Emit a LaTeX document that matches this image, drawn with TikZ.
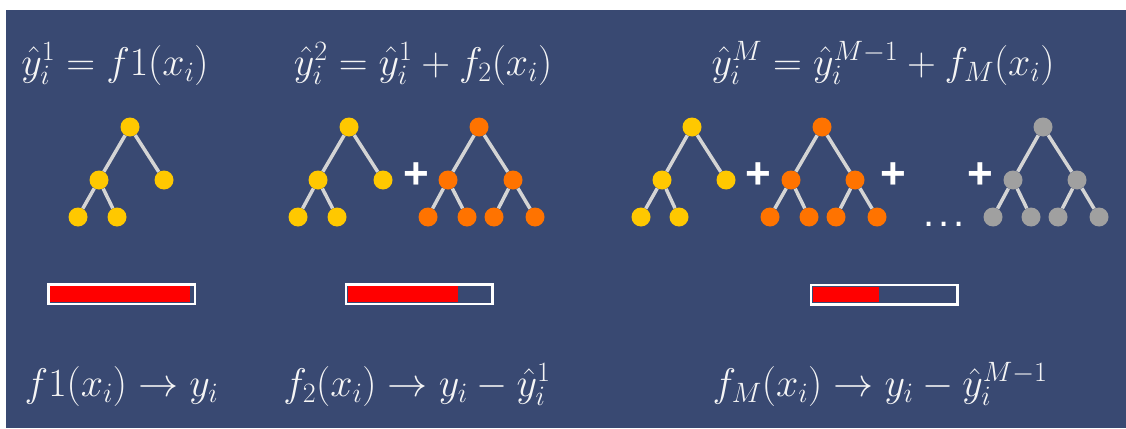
\RequirePackage{fix-cm}
\documentclass[tikz,border=0pt]{standalone}
\usepackage{fontspec}
\newfontfamily\signfont{Liberation Sans}
\usetikzlibrary{positioning}
\definecolor{bgblue}{RGB}{57,73,114}
\definecolor{leafyellow}{RGB}{255,200,0}
\definecolor{leaforange}{RGB}{255,115,0}
\definecolor{leafgray}{RGB}{160,160,160}
\definecolor{edgegray}{RGB}{212,212,212}
\definecolor{chalk}{RGB}{245,245,245}
\tikzstyle{yel}=[circle,fill=leafyellow,minimum size=19pt,inner sep=0pt]
\tikzstyle{org}=[circle,fill=leaforange,minimum size=19pt,inner sep=0pt]
\tikzstyle{gry}=[circle,fill=leafgray,minimum size=19pt,inner sep=0pt]
\tikzstyle{edge}=[draw=edgegray,line width=3.5pt]
\tikzstyle{formula}=[text=chalk,font=\fontsize{40}{46}\selectfont,anchor=base,inner sep=0pt]
\tikzstyle{plus}=[text=white,font=\signfont\bfseries\fontsize{44}{44}\selectfont,inner sep=0pt]
\tikzstyle{barframe}=[rectangle,draw=white,line width=2.5pt,minimum width=146.5pt,minimum height=19.5pt,inner sep=0pt,outer sep=0pt]

\begin{document}
\begin{tikzpicture}[x=1pt,y=-1pt]
\fill[white] (0,0) rectangle (1126,428);
\fill[bgblue] (6,10) rectangle (1126,428);
\node[formula] (top1) at (115,75) {$\hat{y}_i^1 = f1(x_i)$};
\node[formula] (top2) at (423,75) {$\hat{y}_i^2 = \hat{y}_i^1 + f_2(x_i)$};
\node[formula] (top3) at (883,75) {$\hat{y}_i^M = \hat{y}_i^{M-1} + f_M(x_i)$};
\node[yel] (a1) at (130,127) {};
\node[yel] (a2) at (99,180) {};
\node[yel] (a3) at (164,180) {};
\node[yel] (a4) at (78,217) {};
\node[yel] (a5) at (117,217) {};
\draw[edge] (a1) -- (a2);
\draw[edge] (a1) -- (a3);
\draw[edge] (a2) -- (a4);
\draw[edge] (a2) -- (a5);
\node[yel] (b1) at (349,127) {};
\node[yel] (b2) at (318,180) {};
\node[yel] (b3) at (383,180) {};
\node[yel] (b4) at (298,217) {};
\node[yel] (b5) at (337,217) {};
\draw[edge] (b1) -- (b2);
\draw[edge] (b1) -- (b3);
\draw[edge] (b2) -- (b4);
\draw[edge] (b2) -- (b5);
\node[plus] (plus1) at (416,176) {+};
\node[org] (c1) at (479,127) {};
\node[org] (c2) at (448,180) {};
\node[org] (c3) at (513,180) {};
\node[org] (c4) at (428,217) {};
\node[org] (c5) at (467,217) {};
\node[org] (c6) at (494,217) {};
\node[org] (c7) at (535,217) {};
\draw[edge] (c1) -- (c2);
\draw[edge] (c1) -- (c3);
\draw[edge] (c2) -- (c4);
\draw[edge] (c2) -- (c5);
\draw[edge] (c3) -- (c6);
\draw[edge] (c3) -- (c7);
\node[yel] (d1) at (692,127) {};
\node[yel] (d2) at (662,180) {};
\node[yel] (d3) at (726,180) {};
\node[yel] (d4) at (641,217) {};
\node[yel] (d5) at (679,217) {};
\draw[edge] (d1) -- (d2);
\draw[edge] (d1) -- (d3);
\draw[edge] (d2) -- (d4);
\draw[edge] (d2) -- (d5);
\node[plus] (plus2) at (758,176) {+};
\node[org] (e1) at (822,127) {};
\node[org] (e2) at (791,180) {};
\node[org] (e3) at (855,180) {};
\node[org] (e4) at (770,217) {};
\node[org] (e5) at (809,217) {};
\node[org] (e6) at (836,217) {};
\node[org] (e7) at (877,217) {};
\draw[edge] (e1) -- (e2);
\draw[edge] (e1) -- (e3);
\draw[edge] (e2) -- (e4);
\draw[edge] (e2) -- (e5);
\draw[edge] (e3) -- (e6);
\draw[edge] (e3) -- (e7);
\node[plus] (plus3) at (893,176) {+};
\node[plus,font=\signfont\fontsize{40}{40}\selectfont,anchor=base] (dots) at (944,226) {.\kern4pt.\kern4pt.};
\node[plus] (plus4) at (980,176) {+};
\node[gry] (g1) at (1043,127) {};
\node[gry] (g2) at (1013,180) {};
\node[gry] (g3) at (1077,180) {};
\node[gry] (g4) at (993,217) {};
\node[gry] (g5) at (1031,217) {};
\node[gry] (g6) at (1058,217) {};
\node[gry] (g7) at (1099,217) {};
\draw[edge] (g1) -- (g2);
\draw[edge] (g1) -- (g3);
\draw[edge] (g2) -- (g4);
\draw[edge] (g2) -- (g5);
\draw[edge] (g3) -- (g6);
\draw[edge] (g3) -- (g7);
\node[barframe] (bar1) at (121.5,294) {};
\node[barframe] (bar2) at (419,294) {};
\node[barframe] (bar3) at (884,294.5) {};
\fill[red] ([xshift=2pt,yshift=-2pt]bar1.north west) rectangle ([xshift=141.5pt,yshift=2pt]bar1.south west);
\fill[red] ([xshift=2pt,yshift=-2pt]bar2.north west) rectangle ([xshift=112.5pt,yshift=2pt]bar2.south west);
\fill[red] ([xshift=2pt,yshift=-2pt]bar3.north west) rectangle ([xshift=68.5pt,yshift=2pt]bar3.south west);
\node[formula] (bot1) at (121.5,396) {$f1(x_i) \rightarrow y_i$};
\node[formula] (bot2) at (417,396) {$f_2(x_i) \rightarrow y_i - \hat{y}_i^1$};
\node[formula] (bot3) at (880,396) {$f_M(x_i) \rightarrow y_i - \hat{y}_i^{M-1}$};
\end{tikzpicture}
\end{document}
